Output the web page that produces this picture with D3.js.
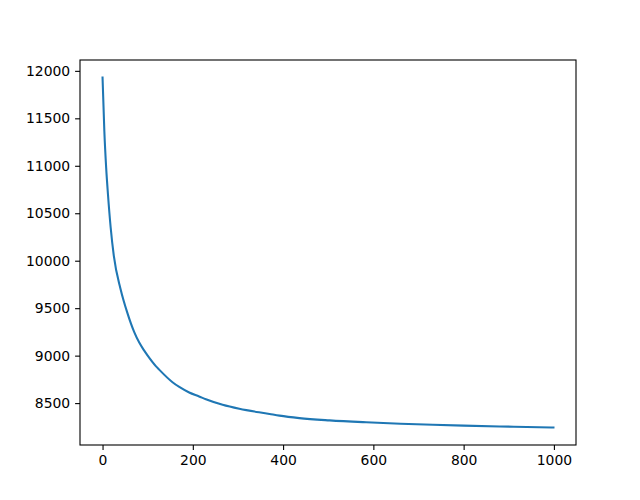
<!DOCTYPE html>
<html>
<head>
<meta charset="utf-8">
<script src="https://cdn.jsdelivr.net/npm/d3@7"></script>
<style>
  body { margin: 0; background: #fff; }
  text { font-family: "DejaVu Sans", sans-serif; font-size: 13.9px; fill: #000; }
</style>
</head>
<body>
<svg id="chart" width="640" height="500"></svg>
<script>
// iteration index and cost values
var iterations = [0, 4, 8, 12, 18, 25, 40, 55, 70, 81, 92, 100, 118, 126, 155, 170, 192, 214, 229, 266, 303, 370, 392, 436, 503, 584, 660, 732, 800, 880, 940, 999];
var costs = [11930, 11363, 10980, 10700, 10350, 10050, 9700, 9450, 9250, 9140, 9055, 9000, 8890, 8850, 8720, 8670, 8612, 8570, 8540, 8482, 8440, 8386, 8368, 8342, 8318, 8298, 8283, 8272, 8263, 8254, 8249, 8243];
var xTicks = [0, 200, 400, 600, 800, 1000];
var yTicks = [8500, 9000, 9500, 10000, 10500, 11000, 11500, 12000];

var data = iterations.map(function(d, i) { return {x: d, y: costs[i]}; });

var svg = d3.select("#chart"),
    margin = {top: 60, right: 64, bottom: 55, left: 80},
    width = 640 - margin.left - margin.right,
    height = 500 - margin.top - margin.bottom;

// matplotlib style 5% padding
var xExt = d3.extent(iterations), yExt = d3.extent(costs);
var xPad = (xExt[1] - xExt[0]) * 0.05, yPad = (yExt[1] - yExt[0]) * 0.05;

var x = d3.scaleLinear()
    .domain([xExt[0] - xPad, xExt[1] + xPad])
    .range([0, width]);

var y = d3.scaleLinear()
    .domain([yExt[0] - yPad, yExt[1] + yPad])
    .range([height, 0]);

var g = svg.append("g")
    .attr("transform", "translate(" + margin.left + "," + margin.top + ")");

var line = d3.line()
    .x(function(d) { return x(d.x); })
    .y(function(d) { return y(d.y); })
    .curve(d3.curveMonotoneX);

g.append("path")
    .datum(data)
    .attr("fill", "none")
    .attr("stroke", "#1f77b4")
    .attr("stroke-width", 2.08)
    .attr("stroke-linecap", "square")
    .attr("d", line);

// axes
var xAxis = d3.axisBottom(x).tickValues(xTicks).tickFormat(d3.format("d"))
    .tickSize(4.9).tickPadding(4.9).tickSizeOuter(0);
var yAxis = d3.axisLeft(y).tickValues(yTicks).tickFormat(d3.format("d"))
    .tickSize(4.9).tickPadding(4.9).tickSizeOuter(0);

var gx = g.append("g")
    .attr("transform", "translate(0," + height + ")")
    .call(xAxis);
var gy = g.append("g").call(yAxis);

[gx, gy].forEach(function(a) {
  a.select(".domain").remove();
  a.selectAll(".tick line").attr("stroke", "#000").attr("stroke-width", 1.1);
  a.selectAll(".tick text").attr("font-family", "DejaVu Sans").attr("font-size", 13.9).attr("fill", "#000");
});

// frame
g.append("rect")
    .attr("x", 0)
    .attr("y", 0)
    .attr("width", width)
    .attr("height", height)
    .attr("fill", "none")
    .attr("stroke", "#000")
    .attr("stroke-width", 1.1);
</script>
</body>
</html>
